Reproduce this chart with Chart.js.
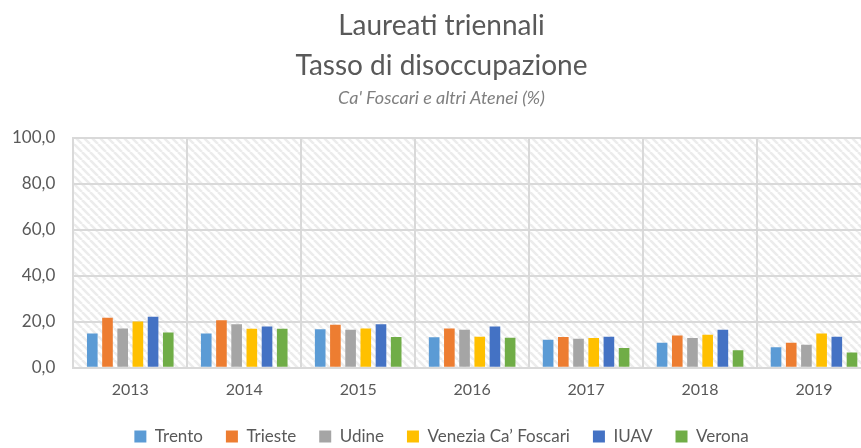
<!DOCTYPE html>
<html>
<head>
<meta charset="utf-8">
<script src="https://cdn.jsdelivr.net/npm/chart.js@4.4.1/dist/chart.umd.min.js"></script>
<style>
  html, body { margin: 0; padding: 0; background: #fff; overflow: hidden; }
  #wrap { width: 861px; height: 448px; overflow: hidden; }
  #chart { margin-left: -6px; display: block; }
</style>
</head>
<body>
<div id="wrap"><canvas id="chart" width="893" height="457"></canvas></div>
<script>
// ===== Data =====
const years = ["2013", "2014", "2015", "2016", "2017", "2018", "2019"];
const trento   = [14.9, 14.9, 16.8, 13.3, 12.2, 10.9, 8.9];
const trieste  = [21.7, 20.7, 18.7, 17.1, 13.4, 14.0, 10.9];
const udine    = [17.1, 18.9, 16.5, 16.5, 12.6, 12.9, 10.0];
const venezia  = [20.1, 17.0, 17.1, 13.5, 12.9, 14.4, 14.9];
const iuav     = [22.2, 18.0, 18.9, 18.0, 13.5, 16.5, 13.5];
const verona   = [15.3, 17.0, 13.4, 13.1, 8.6, 7.6, 6.7];

const textColor = "#595959";
const fontFamily = "Lato, 'Open Sans', sans-serif";

// ===== Hatch pattern for the plot area =====
function makeHatch() {
    const n = 8;
    const c = document.createElement("canvas");
    c.width = n; c.height = n;
    const g = c.getContext("2d");
    g.strokeStyle = "#ececec";
    g.lineWidth = 2.6;
    g.beginPath();
    [-n, 0, n].forEach(k => {
        g.moveTo(k, 0);
        g.lineTo(k + n, n);
    });
    g.stroke();
    return c;
}

const hatchPlugin = {
    id: "hatch",
    beforeDraw(chart) {
        const { ctx, chartArea: a } = chart;
        ctx.save();
        ctx.fillStyle = ctx.createPattern(makeHatch(), "repeat");
        ctx.fillRect(a.left, a.top, a.right - a.left, a.bottom - a.top);
        ctx.restore();
    }
};

function ds(label, data, color) {
    return {
        label: label,
        data: data,
        backgroundColor: color,
        borderWidth: 0,
        barPercentage: 0.7,
        categoryPercentage: 0.8
    };
}

new Chart(document.getElementById("chart"), {
    type: "bar",
    data: {
        labels: years,
        datasets: [
            ds("Trento", trento, "#5b9bd5"),
            ds("Trieste", trieste, "#ed7d31"),
            ds("Udine", udine, "#a5a5a5"),
            ds("Venezia Ca\u2019 Foscari", venezia, "#ffc000"),
            ds("IUAV", iuav, "#4472c4"),
            ds("Verona", verona, "#70ad47")
        ]
    },
    options: {
        responsive: false,
        animation: false,
        layout: { padding: { left: 18, right: 16, top: 0, bottom: 2 } },
        plugins: {
            title: {
                display: true,
                text: ["Laureati triennali", "Tasso di disoccupazione"],
                color: textColor,
                font: { family: fontFamily, size: 28, weight: "normal", lineHeight: 1.43 },
                padding: { top: 6, bottom: 1 }
            },
            subtitle: {
                display: true,
                text: "Ca' Foscari e altri Atenei (%)",
                color: "#7f7f7f",
                font: { family: fontFamily, size: 18, style: "italic" },
                padding: { top: 0, bottom: 29 }
            },
            legend: {
                position: "bottom",
                labels: {
                    color: textColor,
                    font: { family: fontFamily, size: 17 },
                    boxWidth: 12,
                    boxHeight: 12,
                    padding: 23
                }
            },
            tooltip: { enabled: false }
        },
        scales: {
            x: {
                grid: { color: "#d9d9d9", lineWidth: 2, offset: true, drawTicks: false },
                border: { color: "#d9d9d9", width: 2 },
                ticks: { color: textColor, font: { family: fontFamily, size: 16 }, padding: 12 },
                afterFit(scale) { scale.height -= 6; }
            },
            y: {
                min: 0,
                max: 100,
                grid: { color: "#d9d9d9", lineWidth: 2, drawTicks: false },
                border: { color: "#d9d9d9", width: 2 },
                ticks: {
                    stepSize: 20,
                    color: textColor,
                    font: { family: fontFamily, size: 17 },
                    padding: 18,
                    callback: v => v.toFixed(1).replace(".", ",")
                },
                afterFit(scale) { scale.width -= 18; }
            }
        }
    },
    plugins: [hatchPlugin]
});
</script>
</body>
</html>
